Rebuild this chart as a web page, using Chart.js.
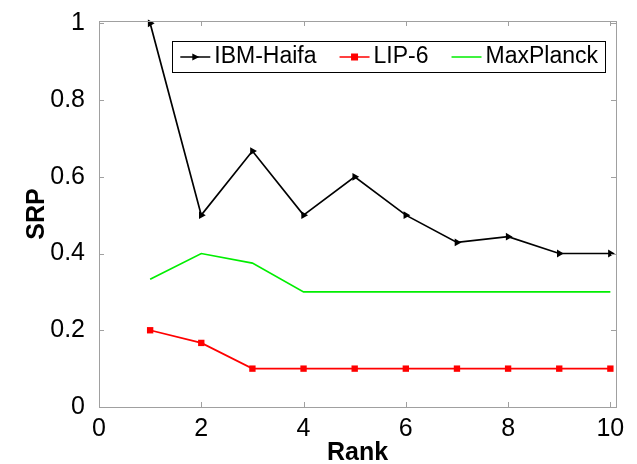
<!DOCTYPE html>
<html>
<head>
<meta charset="utf-8">
<script src="https://cdn.jsdelivr.net/npm/chart.js@4"></script>
<style>
  html, body { margin: 0; padding: 0; background: #fff; }
  #wrap { width: 637px; height: 464px; }
</style>
</head>
<body>
<div id="wrap"><canvas id="mychart"></canvas></div>
<script>
// データ
var ranks = [1, 2, 3, 4, 5, 6, 7, 8, 9, 10];
var ibmHaifa = [1, 0.5, 0.667, 0.5, 0.6, 0.5, 0.429, 0.444, 0.4, 0.4];
var lip6 = [0.2, 0.167, 0.1, 0.1, 0.1, 0.1, 0.1, 0.1, 0.1, 0.1];
var maxPlanck = [0.333, 0.4, 0.375, 0.3, 0.3, 0.3, 0.3, 0.3, 0.3, 0.3];
var xTicks = [0, 2, 4, 6, 8, 10];
var yTicks = [0, 0.2, 0.4, 0.6, 0.8, 1];
var yTickLabels = ['0', '0.2', '0.4', '0.6', '0.8', '1'];

var FONT = "'Liberation Sans', Arial, sans-serif";
var AXIS_COLOR = '#a0a0a0';

function toPoints(ys) {
  return ranks.map(function(x, i) { return {x: x, y: ys[i]}; });
}

// 内向きの目盛線と枠線（MATLAB風）
var boxTicks = {
  id: 'boxTicks',
  afterDatasetsDraw: function(chart) {
    var ctx = chart.ctx, a = chart.chartArea;
    var xs = chart.scales.x, ys = chart.scales.y;
    var len = 5;
    ctx.save();
    ctx.strokeStyle = AXIS_COLOR;
    ctx.lineWidth = 1;
    ctx.beginPath();
    xTicks.forEach(function(v) {
      var px = Math.round(xs.getPixelForValue(v)) + 0.5;
      ctx.moveTo(px, a.bottom); ctx.lineTo(px, a.bottom - len);
      ctx.moveTo(px, a.top); ctx.lineTo(px, a.top + len);
    });
    yTicks.forEach(function(v) {
      var py = Math.round(ys.getPixelForValue(v)) + 0.5;
      ctx.moveTo(a.left, py); ctx.lineTo(a.left + len, py);
      ctx.moveTo(a.right, py); ctx.lineTo(a.right - len, py);
    });
    ctx.stroke();
    ctx.strokeRect(Math.round(a.left) + 0.5, Math.round(a.top) + 0.5,
                   Math.round(a.right - a.left), Math.round(a.bottom - a.top));
    ctx.restore();
  }
};

// 凡例（枠付き・横並び・プロット内）
var boxLegend = {
  id: 'boxLegend',
  afterDraw: function(chart) {
    var ctx = chart.ctx, a = chart.chartArea;
    var sets = chart.data.datasets;
    ctx.save();
    ctx.font = '23px ' + FONT;
    var padL = 8, padR = 7, lineW = 30, gap = 4, itemGap = 23;
    var w = padL + padR;
    sets.forEach(function(ds, i) {
      w += lineW + gap + ctx.measureText(ds.label).width;
      if (i < sets.length - 1) w += itemGap;
    });
    var right = a.right - 11, top = a.top + 20, h = 31;
    var left = right - w;
    ctx.fillStyle = '#fff';
    ctx.fillRect(left, top, w, h);
    ctx.strokeStyle = '#000';
    ctx.lineWidth = 1;
    ctx.strokeRect(Math.round(left) + 0.5, top + 0.5, Math.round(w), h);
    var cy = top + h / 2 + 0.5;
    var x = left + padL;
    sets.forEach(function(ds, i) {
      ctx.strokeStyle = ds.borderColor;
      ctx.lineWidth = 1.5;
      ctx.beginPath();
      ctx.moveTo(x, cy); ctx.lineTo(x + lineW, cy);
      ctx.stroke();
      var mx = x + lineW / 2;
      ctx.fillStyle = ds.borderColor;
      if (ds.pointStyle === 'triangle') {
        ctx.beginPath();
        ctx.moveTo(mx + 4, cy); ctx.lineTo(mx - 3, cy - 3.5); ctx.lineTo(mx - 3, cy + 3.5);
        ctx.closePath(); ctx.fill();
      } else if (ds.pointStyle === 'rect') {
        ctx.fillRect(mx - 3.5, cy - 3.5, 7, 7);
      }
      x += lineW + gap;
      ctx.fillStyle = '#000';
      ctx.textBaseline = 'middle';
      ctx.fillText(ds.label, x, cy);
      x += ctx.measureText(ds.label).width + itemGap;
    });
    ctx.restore();
  }
};

var ctx_line = document.getElementById('mychart');
var myChart = new Chart(ctx_line, {
  type: 'line',
  data: {
    datasets: [{
      label: 'IBM-Haifa',
      data: toPoints(ibmHaifa),
      borderColor: '#000000',
      backgroundColor: '#000000',
      borderWidth: 1.7,
      pointStyle: 'triangle',
      pointRotation: 90,
      pointRadius: 4.5,
      pointBorderWidth: 0,
      clip: 8,
    }, {
      label: 'LIP-6',
      data: toPoints(lip6),
      borderColor: '#ff0000',
      backgroundColor: '#ff0000',
      borderWidth: 1.7,
      pointStyle: 'rect',
      pointRadius: 4.5,
      pointBorderWidth: 0,
      clip: 8,
    }, {
      label: 'MaxPlanck',
      data: toPoints(maxPlanck),
      borderColor: '#00ee00',
      backgroundColor: '#00ee00',
      borderWidth: 1.7,
      pointRadius: 0,
      clip: 8,
    }],
  },
  options: {
    responsive: true,
    maintainAspectRatio: false,
    animation: false,
    events: [],
    layout: {
      padding: { left: 0, right: 21, top: 16, bottom: 0 },
    },
    scales: {
      x: {
        type: 'linear',
        min: 0,
        max: 10.11,
        afterBuildTicks: function(s) { s.ticks = xTicks.map(function(v) { return {value: v}; }); },
        afterFit: function(s) { s.height = 57; },
        grid: { display: false },
        border: { display: false },
        ticks: {
          color: '#000',
          padding: -1,
          maxRotation: 0,
          font: { family: FONT, size: 25 },
          callback: function(v) { return String(v); },
        },
        title: {
          display: true,
          text: 'Rank',
          color: '#000',
          font: { family: FONT, size: 25, weight: 'bold', lineHeight: 1 },
          padding: { top: 0, bottom: -2 },
        },
      },
      y: {
        min: 0,
        max: 1.006,
        afterBuildTicks: function(s) { s.ticks = yTicks.map(function(v) { return {value: v}; }); },
        afterFit: function(s) { s.width = 99; },
        grid: { display: false },
        border: { display: false },
        ticks: {
          color: '#000',
          padding: 6,
          font: { family: FONT, size: 25 },
          callback: function(v) { return yTickLabels[yTicks.indexOf(v)]; },
        },
        title: {
          display: true,
          text: 'SRP',
          color: '#000',
          font: { family: FONT, size: 25, weight: 'bold', lineHeight: 1 },
          padding: { top: 25, bottom: 0 },
        },
      },
    },
    plugins: {
      legend: { display: false },
      tooltip: { enabled: false },
    },
  },
  plugins: [boxTicks, boxLegend],
});
</script>
</body>
</html>
